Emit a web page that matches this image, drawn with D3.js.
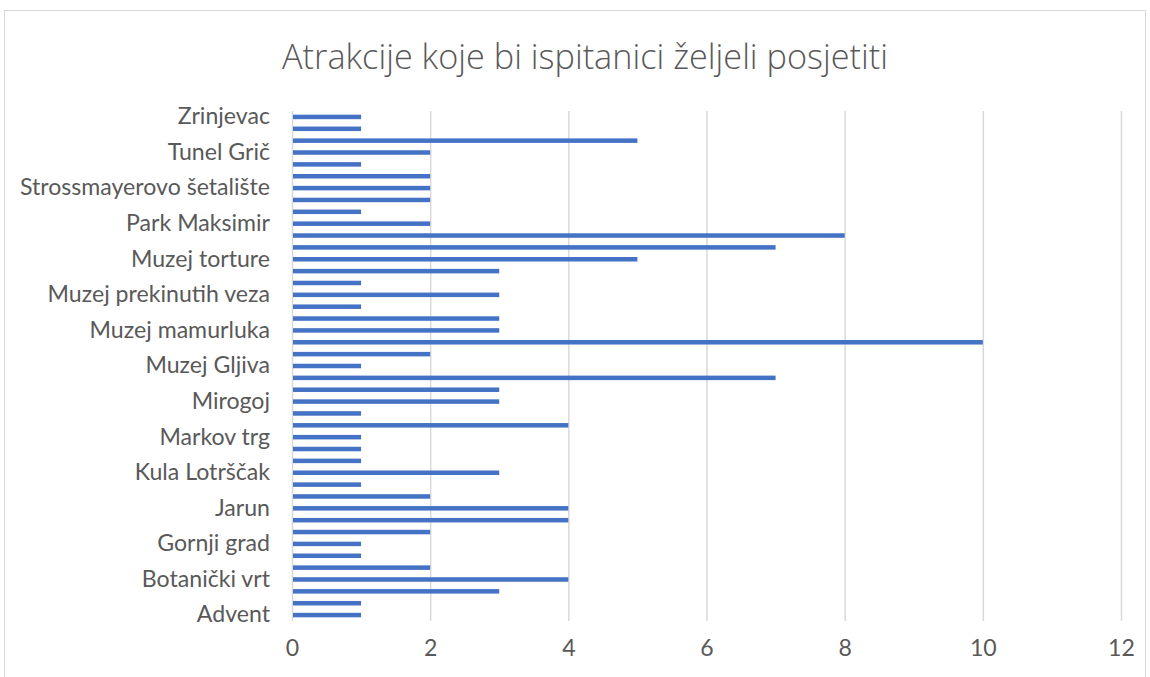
<!DOCTYPE html>
<html>
<head>
<meta charset="utf-8">
<script src="https://cdn.jsdelivr.net/npm/d3@7"></script>
<style>
  body { margin: 0; background: #fff; }
  text { font-family: "Open Sans", "Noto Sans", sans-serif; fill: #595959; }
</style>
</head>
<body>
<div id="chart"></div>
<script>
(function () {
    // --- Datos (de abajo hacia arriba, como en Excel) ---
    const categories = [
        "Advent", "Arheološki muzej", "Atelijer Meštrović", "Botanički vrt", "Bundek", "Dolac",
        "Gornji grad", "Gradec", "Hrvatsko narodno kazalište", "Jarun", "Kamenita vrata", "Katedrala",
        "Kula Lotrščak", "Lauba", "Manduševac", "Markov trg", "Medvednica", "Meštrovićev atelijer",
        "Mirogoj", "Muzej 80-ih", "Muzej čokolade", "Muzej Gljiva", "Muzej grada Zagreba", "Muzej iluzija",
        "Muzej mamurluka", "Muzej Mimara", "Muzej Nikole Tesle", "Muzej prekinutih veza", "Muzej suvremene umjetnosti", "Muzej tehnike",
        "Muzej torture", "Opera", "Park Bundek", "Park Maksimir", "Sljeme", "Stari grad",
        "Strossmayerovo šetalište", "Tkalčićeva", "Trg bana Jelačića", "Tunel Grič", "Uspinjača", "Zagrebačka katedrala",
        "Zrinjevac"
    ];
    const values = [
        1, 1, 3, 4, 2, 1,
        1, 2, 4, 4, 2, 1,
        3, 1, 1, 1, 4, 1,
        3, 3, 7, 1, 2, 10,
        3, 3, 1, 3, 1, 3,
        5, 7, 8, 2, 1, 2,
        2, 2, 1, 2, 5, 1,
        1
    ];
    const xTicks = [0, 2, 4, 6, 8, 10, 12];
    const title = "Atrakcije koje bi ispitanici željeli posjetiti";

    const width = 1150, height = 677;
    const plot = {left: 292, right: 1121, top: 111, bottom: 621};
    const labelFont = "Lato, 'Open Sans', sans-serif";

    const svg = d3.select("#chart").append("svg")
        .attr("width", width)
        .attr("height", height);

    // Marco del gráfico
    svg.append("rect")
        .attr("x", 4.5).attr("y", 10.5)
        .attr("width", 1141).attr("height", 700)
        .attr("fill", "#fff")
        .attr("stroke", "#d9d9d9")
        .attr("stroke-width", 1);

    // Título
    const t = svg.append("text")
        .attr("x", 585)
        .attr("y", 69)
        .attr("text-anchor", "middle")
        .style("font-size", "31px")
        .style("font-weight", 300)
        .text(title);
    const tw = t.node().getComputedTextLength();
    t.style("font-size", (31 * 606 / tw).toFixed(2) + "px");

    const x = d3.scaleLinear().domain([0, 12]).range([plot.left, plot.right]);
    const y = d3.scaleBand()
        .domain(d3.range(categories.length))
        .range([plot.bottom, plot.top])
        .paddingInner(0.62)
        .paddingOuter(0.31);

    // Líneas de cuadrícula
    const xAxis = d3.axisBottom(x)
        .tickValues(xTicks)
        .tickSize(-(plot.bottom - plot.top))
        .tickFormat(d3.format("d"))
        .tickPadding(19);

    const gx = svg.append("g")
        .attr("transform", `translate(0,${plot.bottom})`)
        .call(xAxis);
    gx.select(".domain").remove();
    gx.selectAll(".tick line").attr("stroke", "#d9d9d9").attr("stroke-width", 1.5);

    // Barras
    svg.append("g")
        .selectAll("rect")
        .data(values)
        .join("rect")
        .attr("x", x(0) + 1)
        .attr("y", (d, i) => y(i))
        .attr("width", d => x(d) - x(0) - 1)
        .attr("height", y.bandwidth())
        .attr("fill", "#4472c4");

    // Etiquetas del eje Y (una de cada tres, como Excel)
    const yAxis = d3.axisLeft(y)
        .tickValues(d3.range(0, categories.length, 3))
        .tickFormat(i => categories[i])
        .tickSize(0)
        .tickPadding(22);

    const gy = svg.append("g")
        .attr("transform", `translate(${plot.left},0)`)
        .call(yAxis);
    gy.select(".domain").remove();

    // Tamaño de letra ajustado al ancho de "Strossmayerovo šetalište" (~250px)
    const labels = svg.selectAll(".tick text")
        .style("font-family", labelFont)
        .style("font-size", "20px")
        .attr("fill", "#595959");
    const ref = gy.selectAll(".tick text").filter(i => i === 36).node();
    const fs = 20 * 250 / ref.getComputedTextLength();
    labels.style("font-size", fs.toFixed(2) + "px");
})();
</script>
</body>
</html>
